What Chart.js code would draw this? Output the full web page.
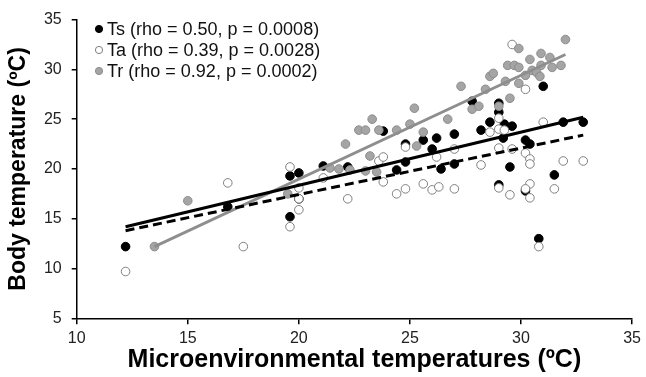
<!DOCTYPE html>
<html><head><meta charset="utf-8">
<script src="https://cdn.jsdelivr.net/npm/chart.js@4"></script>
<style>html,body{margin:0;padding:0;background:#fff}</style>
</head><body>
<canvas id="c" width="646" height="377"></canvas>
<script>
// ---- data ----
const seriesLabels = ['Ts (rho = 0.50, p = 0.0008)', 'Ta (rho = 0.39, p = 0.0028)', 'Tr (rho = 0.92, p = 0.0002)'];
const xTicks = [10, 15, 20, 25, 30, 35];
const yTicks = [5, 10, 15, 20, 25, 30, 35];

const tsData = [[12.2,12.2],[16.8,16.2],[19.6,19.3],[20.0,19.6],[19.6,15.2],[20.0,17.0],[21.1,20.3],[22.2,20.2],
  [23.8,23.8],[24.8,22.5],[24.8,20.7],[24.4,19.9],[25.6,22.9],[26.2,23.1],[26.0,22.0],[26.4,20.0],[27.0,23.5],
  [27.0,20.5],[27.8,26.8],[28.2,23.9],[28.6,24.7],[29.0,25.7],[29.0,26.6],[29.25,24.5],[29.6,24.3],[29.2,23.1],
  [29.5,20.2],[29.0,18.4],[30.2,22.9],[30.4,22.5],[30.2,17.8],[31.0,28.3],[31.5,19.4],[31.9,24.7],[32.8,24.7],[30.8,13.0]];
const taData = [[12.2,9.7],[16.8,18.6],[17.5,12.2],[19.6,20.2],[19.6,14.2],[20.0,15.9],[20.0,18.1],[20.0,17.0],
  [21.1,19.1],[22.2,17.0],[23.6,20.8],[23.8,21.2],[23.8,18.7],[24.4,17.5],[24.8,18.0],[24.8,22.2],[25.6,18.5],
  [26.0,17.9],[26.3,18.2],[26.2,21.2],[27.0,22.0],[27.0,18.0],[28.2,20.4],[28.6,23.7],[29.0,25.1],[29.0,24.0],
  [29.25,23.9],[29.0,22.1],[29.6,22.0],[29.0,18.1],[29.5,17.4],[30.2,21.6],[30.4,21.0],[30.4,20.5],[30.4,18.5],
  [30.2,18.0],[30.4,17.1],[31.0,24.7],[31.5,18.0],[31.9,20.8],[32.8,20.8],[30.8,12.2],[29.6,32.5],[30.2,28.0]];
const trData = [[13.5,12.2],[15.0,16.8],[19.5,17.5],[21.4,20.1],[21.8,20.0],[22.3,19.9],[23.0,19.8],[23.5,19.7],
  [23.2,21.3],[22.1,22.5],[22.7,23.9],[23.0,23.9],[23.6,23.9],[24.4,23.9],[25.0,24.5],[25.6,23.7],[25.3,22.3],
  [23.3,25.0],[25.2,26.1],[26.7,25.0],[27.3,28.3],[27.8,26.0],[28.1,26.3],[29.0,26.3],[29.5,27.1],[28.4,28.0],
  [28.6,29.3],[28.75,29.6],[29.3,28.8],[29.9,28.6],[29.4,30.4],[29.7,30.4],[29.9,30.2],[29.9,32.1],[30.2,29.4],
  [30.5,29.9],[30.4,31.0],[30.9,31.6],[31.3,31.2],[31.8,30.4],[31.4,30.2],[30.9,30.4],[30.7,29.7],[30.85,29.3],[32.0,33.0]];
// fitted regression lines (end points)
const tsFit = [[12.2,14.2],[32.8,25.2]];
const taFit = [[12.2,13.8],[32.8,23.4]];
const trFit = [[13.5,12.2],[32.0,31.5]];

// ---- chart ----
const pts = a => a.map(p => ({x: p[0], y: p[1]}));
const FONT = "'Liberation Sans', Arial, sans-serif";
const styles = [
  {bg: '#000000', border: '#000000'},
  {bg: '#ffffff', border: '#7f7f7f'},
  {bg: '#a5a5a5', border: '#8c8c8c'}
];

const legendPlugin = {
  id: 'insideLegend',
  afterDatasetsDraw(chart) {
    const ctx = chart.ctx;
    ctx.save();
    ctx.font = '18px ' + FONT;
    ctx.textBaseline = 'middle';
    ctx.textAlign = 'left';
    seriesLabels.forEach((lab, i) => {
      const y = 29 + i * 21;
      ctx.beginPath();
      ctx.arc(99, y, 3.6, 0, Math.PI * 2);
      ctx.fillStyle = styles[i].bg;
      ctx.fill();
      ctx.lineWidth = 1;
      ctx.strokeStyle = styles[i].border;
      ctx.stroke();
      ctx.fillStyle = '#111';
      ctx.fillText(lab, 107, y + 1);
    });
    ctx.restore();
  }
};

const scatterDs = (i, data, ord) => ({
  type: 'scatter', label: seriesLabels[i], data: pts(data), order: ord,
  backgroundColor: styles[i].bg, borderColor: styles[i].border, borderWidth: 1,
  pointRadius: 4.3, pointHoverRadius: 4.3
});
const lineDs = (data, color, width, dash, ord) => ({
  type: 'line', data: pts(data), order: ord, borderColor: color, borderWidth: width,
  borderDash: dash, pointRadius: 0, fill: false, showLine: true, tension: 0
});

new Chart(document.getElementById('c'), {
  type: 'scatter',
  data: {
    datasets: [
      scatterDs(0, tsData, 6),
      scatterDs(1, taData, 5),
      scatterDs(2, trData, 4),
      lineDs(trFit, '#8e8e8e', 2.8, [], 3),
      lineDs(taFit, '#000000', 3, [9, 5], 2),
      lineDs(tsFit, '#000000', 3, [], 1)
    ]
  },
  options: {
    responsive: false,
    animation: false,
    layout: {padding: {top: 15, right: 12, left: 0, bottom: 0}},
    plugins: {legend: {display: false}, tooltip: {enabled: false}},
    scales: {
      x: {
        type: 'linear', min: 10, max: 35,
        afterBuildTicks: s => { s.ticks = xTicks.map(v => ({value: v})); },
        afterFit: s => { s.height = 58.7; },
        ticks: {font: {family: FONT, size: 16}, color: '#222', padding: 5},
        grid: {drawOnChartArea: false, drawTicks: true, tickLength: 6, color: '#000', lineWidth: 1.5},
        border: {display: true, color: '#000', width: 1.5},
        title: {display: true, text: 'Microenvironmental temperatures (ºC)', color: '#000',
                font: {family: FONT, size: 25, weight: 'bold'}, padding: {top: 0, bottom: 2}}
      },
      y: {
        type: 'linear', min: 5, max: 35,
        afterBuildTicks: s => { s.ticks = yTicks.map(v => ({value: v})); },
        afterFit: s => { s.width = 76.7; },
        ticks: {font: {family: FONT, size: 16}, color: '#222', padding: 10},
        grid: {drawOnChartArea: false, drawTicks: true, tickLength: 5, color: '#000', lineWidth: 1.5},
        border: {display: true, color: '#000', width: 1.5},
        title: {display: true, text: 'Body temperature (ºC)', color: '#000',
                font: {family: FONT, size: 23, weight: 'bold'}, padding: {top: 5, bottom: 0}}
      }
    }
  },
  plugins: [legendPlugin]
});
</script>
</body></html>
